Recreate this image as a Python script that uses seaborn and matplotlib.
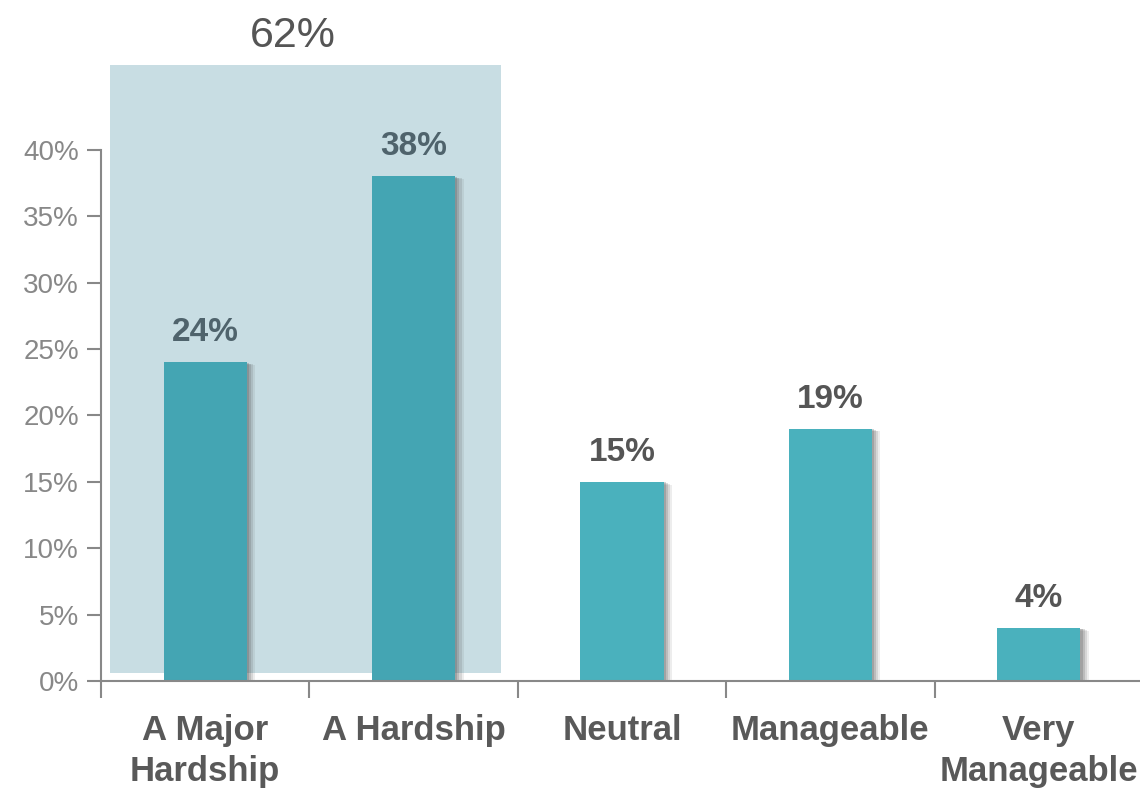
import matplotlib
matplotlib.use("Agg")
import matplotlib.pyplot as plt
import matplotlib.patheffects as pe
from matplotlib.patches import Rectangle
from matplotlib import font_manager
import seaborn as sns
import pandas as pd

categories = ["A Major\nHardship", "A Hardship", "Neutral", "Manageable", "Very\nManageable"]
values = [24, 38, 15, 19, 4]
bar_colors = ["#44A5B3", "#44A5B3", "#4AB1BD", "#4AB1BD", "#4AB1BD"]
label_colors = ["#4F636C", "#4F636C", "#555555", "#555555", "#555555"]
yticks = [0, 5, 10, 15, 20, 25, 30, 35, 40]
group_label = "62%"

sns.set_theme(style="white")
names = {f.name for f in font_manager.fontManager.ttflist}
fam = "Liberation Sans Narrow" if "Liberation Sans Narrow" in names else "Liberation Sans"
plt.rcParams["font.family"] = [fam, "DejaVu Sans"]

W, H = 1140, 796
fig = plt.figure(figsize=(W / 100, H / 100), dpi=100)
y0_px, px_per_pct = 681, 13.28
ymax = 48
ax = fig.add_axes([101 / W, (H - y0_px) / H, 1042 / W, ymax * px_per_pct / H])

df = pd.DataFrame({"cat": categories, "val": values})
# highlight region
ax.add_patch(Rectangle((-0.456, 0.6), 1.876, 45.8, facecolor="#C8DDE3",
                       edgecolor="none", zorder=0, clip_on=False))
sns.barplot(data=df, x="cat", y="val", hue="cat", palette=bar_colors,
            legend=False, width=0.4, ax=ax, zorder=2, saturation=1, linewidth=0)
for p in ax.patches:
    if p.get_width() < 1:
        p.set_path_effects([pe.SimplePatchShadow(offset=(6, -2), shadow_rgbFace="#555555", alpha=0.10),
                            pe.SimplePatchShadow(offset=(4.5, -1.5), shadow_rgbFace="#555555", alpha=0.15),
                            pe.SimplePatchShadow(offset=(3, -1), shadow_rgbFace="#555555", alpha=0.2),
                            pe.SimplePatchShadow(offset=(1.5, -0.5), shadow_rgbFace="#555555", alpha=0.25),
                            pe.Normal()])

for i, v in enumerate(values):
    ax.annotate(f"{v}%", (i, v), xytext=(0, 10), textcoords="offset points",
                ha="center", va="bottom", fontsize=24, fontweight="bold",
                color=label_colors[i])

ax.text(0.42, 48.6, group_label, ha="center", va="center", fontsize=31,
        color="#555555", clip_on=False)

ax.set_xlim(-0.5, 4.5)
ax.set_ylim(0, ymax)
ax.set_yticks(yticks)
ax.set_yticklabels([f"{t}%" for t in yticks], fontsize=20, color="#888888")
ax.set_xticks(range(len(categories)))
ax.set_xticklabels(categories, fontsize=25, fontweight="bold", color="#595959",
                   linespacing=1.3)
ax.set_xticks([-0.5, 0.5, 1.5, 2.5, 3.5, 4.5], minor=True)
ax.tick_params(axis="x", which="major", length=0, pad=24)
ax.tick_params(axis="x", which="minor", length=12, width=1.5, color="#888888", direction="out", bottom=True)
ax.tick_params(axis="y", length=10, width=1.5, color="#888888", direction="out", left=True, pad=6)
ax.set_xlabel("")
ax.set_ylabel("")
for s in ["top", "right"]:
    ax.spines[s].set_visible(False)
for s in ["left", "bottom"]:
    ax.spines[s].set_color("#888888")
    ax.spines[s].set_linewidth(1.5)
ax.spines["left"].set_bounds(0, 40)

fig.savefig("out.png", dpi=100)
